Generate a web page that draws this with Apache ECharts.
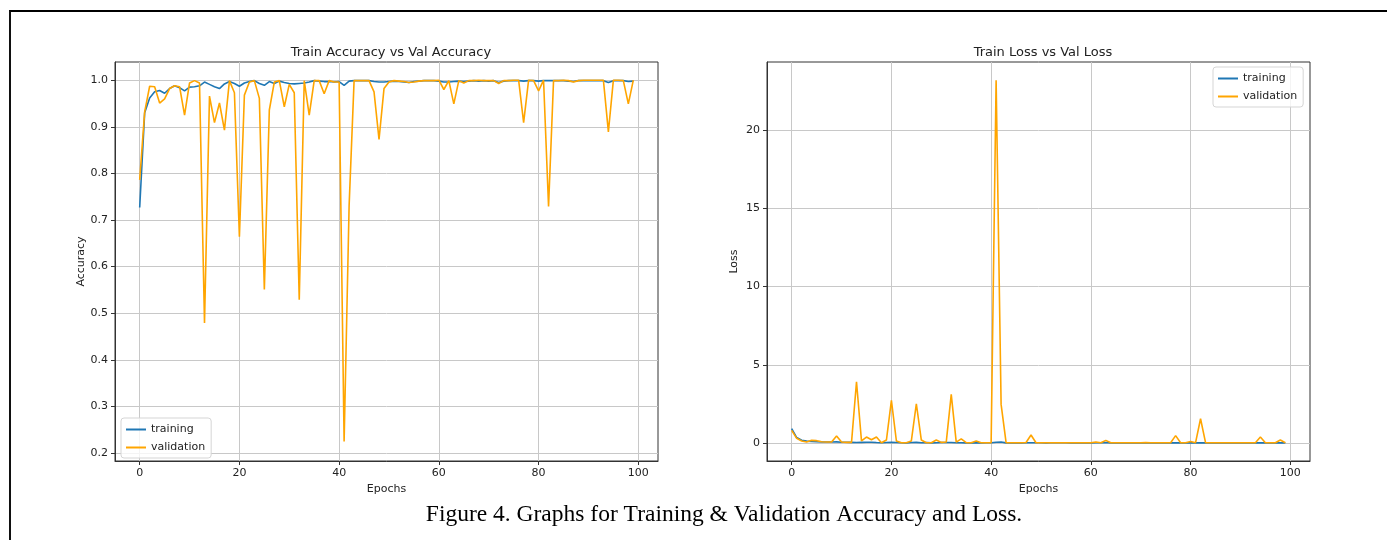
<!DOCTYPE html>
<html>
<head>
<meta charset="utf-8">
<script src="https://cdn.jsdelivr.net/npm/echarts@6/dist/echarts.min.js"></script>
<style>
  html, body { margin: 0; padding: 0; background: #fff; }
  #frame { position: absolute; left: 9px; top: 10px; width: 1400px; height: 600px;
           border-top: 2px solid #000; border-left: 2px solid #111; }
  #chart { position: absolute; left: 0; top: 0; width: 1387px; height: 540px; }
</style>
</head>
<body>
<div id="frame"></div>
<div id="chart"></div>
<script>
// epochs 0..99
const epochs = Array.from({ length: 100 }, (_, i) => i);

// accuracy per epoch
const trainAcc = [
  0.727, 0.930, 0.962, 0.975, 0.978, 0.972, 0.982, 0.988, 0.984, 0.977,
  0.985, 0.986, 0.988, 0.996, 0.991, 0.986, 0.982, 0.992, 0.997, 0.993,
  0.987, 0.994, 0.997, 0.999, 0.993, 0.989, 0.997, 0.993, 0.998, 0.995,
  0.993, 0.992, 0.993, 0.994, 0.996, 0.999, 0.998, 0.997, 0.997, 0.996,
  0.997, 0.989, 0.998, 0.999, 0.999, 0.999, 0.999, 0.997, 0.996, 0.996,
  0.997, 0.998, 0.997, 0.996, 0.995, 0.997, 0.998, 0.999, 0.999, 0.999,
  0.998, 0.996, 0.996, 0.997, 0.998, 0.997, 0.998, 0.999, 0.998, 0.999,
  0.998, 0.999, 0.995, 0.998, 0.999, 0.999, 0.999, 0.998, 0.999, 0.999,
  0.998, 0.999, 0.999, 0.999, 0.999, 0.999, 0.998, 0.997, 0.999, 0.999,
  0.999, 0.999, 0.999, 0.999, 0.995, 0.999, 0.999, 0.999, 0.997, 0.998
];
const valAcc = [
  0.786, 0.932, 0.987, 0.986, 0.951, 0.960, 0.982, 0.988, 0.986, 0.925,
  0.994, 0.999, 0.994, 0.479, 0.966, 0.909, 0.951, 0.893, 0.999, 0.973,
  0.664, 0.968, 0.996, 0.999, 0.961, 0.551, 0.936, 0.996, 0.999, 0.943,
  0.991, 0.973, 0.529, 0.999, 0.925, 0.999, 0.999, 0.971, 0.999, 0.996,
  0.996, 0.225, 0.730, 0.999, 0.999, 0.999, 0.999, 0.975, 0.873, 0.982,
  0.996, 0.999, 0.998, 0.997, 0.995, 0.996, 0.998, 0.999, 0.999, 0.999,
  1.000, 0.980, 0.999, 0.949, 0.999, 0.994, 0.999, 0.999, 1.000, 0.999,
  0.999, 0.999, 0.993, 0.999, 0.999, 1.000, 1.000, 0.909, 1.000, 0.999,
  0.977, 1.000, 0.729, 0.999, 0.999, 1.000, 0.999, 0.996, 0.999, 1.000,
  1.000, 1.000, 1.000, 1.000, 0.889, 1.000, 1.000, 0.999, 0.949, 1.000
];

// loss per epoch
const trainLoss = [
  0.92, 0.35, 0.18, 0.12, 0.10, 0.09, 0.07, 0.06, 0.06, 0.07,
  0.05, 0.05, 0.04, 0.03, 0.04, 0.05, 0.05, 0.03, 0.02, 0.03,
  0.04, 0.03, 0.02, 0.01, 0.03, 0.04, 0.02, 0.03, 0.01, 0.02,
  0.03, 0.03, 0.03, 0.02, 0.02, 0.01, 0.01, 0.02, 0.01, 0.02,
  0.02, 0.05, 0.06, 0.01, 0.01, 0.01, 0.01, 0.02, 0.02, 0.02,
  0.02, 0.01, 0.02, 0.02, 0.02, 0.02, 0.01, 0.01, 0.01, 0.01,
  0.01, 0.02, 0.02, 0.03, 0.01, 0.01, 0.01, 0.01, 0.01, 0.01,
  0.01, 0.01, 0.02, 0.01, 0.01, 0.01, 0.01, 0.02, 0.01, 0.01,
  0.01, 0.01, 0.01, 0.01, 0.01, 0.01, 0.01, 0.01, 0.01, 0.01,
  0.01, 0.01, 0.01, 0.01, 0.02, 0.01, 0.01, 0.01, 0.02, 0.01
];
const valLoss = [
  0.81, 0.30, 0.13, 0.06, 0.17, 0.15, 0.08, 0.06, 0.06, 0.45,
  0.06, 0.04, 0.04, 3.92, 0.13, 0.38, 0.21, 0.38, 0.02, 0.19,
  2.73, 0.13, 0.02, 0.02, 0.13, 2.51, 0.19, 0.02, 0.02, 0.19,
  0.04, 0.06, 3.11, 0.06, 0.26, 0.02, 0.02, 0.13, 0.02, 0.02,
  0.02, 23.2, 2.47, 0.02, 0.02, 0.02, 0.02, 0.03, 0.51, 0.02,
  0.02, 0.02, 0.02, 0.02, 0.02, 0.02, 0.02, 0.02, 0.02, 0.02,
  0.02, 0.06, 0.02, 0.17, 0.02, 0.02, 0.02, 0.02, 0.02, 0.02,
  0.02, 0.03, 0.02, 0.02, 0.02, 0.02, 0.02, 0.47, 0.02, 0.02,
  0.10, 0.02, 1.55, 0.02, 0.02, 0.02, 0.02, 0.02, 0.02, 0.02,
  0.02, 0.02, 0.02, 0.02, 0.38, 0.02, 0.02, 0.02, 0.19, 0.02
];

const xTicks = [0, 20, 40, 60, 80, 100];
const accTicks = [0.2, 0.3, 0.4, 0.5, 0.6, 0.7, 0.8, 0.9, 1.0];
const lossTicks = [0, 5, 10, 15, 20];

const FONT = 'DejaVu Sans';
const BLUE = '#1f77b4';
const ORANGE = '#FFA500';

const pairs = (ys) => epochs.map((e, i) => [e, ys[i]]);

function xAxisFor(gridIndex) {
  return {
    type: 'value', gridIndex, min: -4.95, max: 103.95,
    name: 'Epochs', nameLocation: 'middle', nameGap: 22,
    nameTextStyle: { fontFamily: FONT, fontSize: 11, color: '#222' },
    axisLine: { show: true, onZero: false, lineStyle: { color: '#333', width: 1 } },
    axisTick: { show: true, length: 4, customValues: xTicks, lineStyle: { color: '#333' } },
    axisLabel: { customValues: xTicks, fontFamily: FONT, fontSize: 11, color: '#222', margin: 7 },
    splitLine: { show: true, lineStyle: { color: '#c8c8c8', width: 1 } }
  };
}

function yAxisFor(gridIndex, min, max, ticks, name, gap, fmt) {
  return {
    type: 'value', gridIndex, min, max,
    name, nameLocation: 'middle', nameGap: gap, nameRotate: 90,
    nameTextStyle: { fontFamily: FONT, fontSize: 11, color: '#222' },
    axisLine: { show: true, onZero: false, lineStyle: { color: '#333', width: 1 } },
    axisTick: { show: true, length: 4, customValues: ticks, lineStyle: { color: '#333' } },
    axisLabel: { customValues: ticks, fontFamily: FONT, fontSize: 11, color: '#222', margin: 7, formatter: fmt },
    splitLine: { show: true, lineStyle: { color: '#c8c8c8', width: 1 } }
  };
}

function line(name, color, xi, ys) {
  return {
    name, type: 'line', xAxisIndex: xi, yAxisIndex: xi,
    data: pairs(ys), showSymbol: false, symbol: 'none',
    lineStyle: { color, width: 1.6 }, itemStyle: { color },
    animation: false
  };
}

const legendBase = {
  orient: 'vertical', itemWidth: 20, itemHeight: 2, itemGap: 7, icon: 'rect',
  textStyle: { fontFamily: FONT, fontSize: 11, color: '#222' },
  backgroundColor: 'rgba(255,255,255,0.8)', borderColor: '#d5d5d5', borderWidth: 1,
  borderRadius: 3, padding: [6, 6, 5, 5],
  data: ['training', 'validation']
};

const chart = echarts.init(document.getElementById('chart'));
chart.setOption({
  backgroundColor: 'transparent',
  animation: false,
  title: [
    { text: 'Train Accuracy vs Val Accuracy', left: 386, top: 41, textAlign: 'center',
      textStyle: { fontFamily: FONT, fontSize: 13, fontWeight: 'normal', color: '#222' } },
    { text: 'Train Loss vs Val Loss', left: 1038, top: 41, textAlign: 'center',
      textStyle: { fontFamily: FONT, fontSize: 13, fontWeight: 'normal', color: '#222' } }
  ],
  grid: [
    { left: 115, top: 62, width: 543, height: 399, show: true, borderColor: '#333', borderWidth: 1 },
    { left: 767, top: 62, width: 543, height: 399, show: true, borderColor: '#333', borderWidth: 1 }
  ],
  xAxis: [xAxisFor(0), xAxisFor(1)],
  yAxis: [
    yAxisFor(0, 0.183, 1.039, accTicks, 'Accuracy', 28, (v) => v.toFixed(1)),
    yAxisFor(1, -1.15, 24.36, lossTicks, 'Loss', 27, (v) => String(v))
  ],
  legend: [
    Object.assign({}, legendBase, { left: 121, top: 418 }),
    Object.assign({}, legendBase, { left: 1213, top: 67 })
  ],
  series: [
    line('training', BLUE, 0, trainAcc),
    line('validation', ORANGE, 0, valAcc),
    line('training', BLUE, 1, trainLoss),
    line('validation', ORANGE, 1, valLoss)
  ],
  graphic: [
    { type: 'text', x: 724, y: 515,
      style: { text: 'Figure 4. Graphs for Training & Validation Accuracy and Loss.',
               textAlign: 'center', textVerticalAlign: 'middle',
               font: '23.5px "Liberation Serif", "Times New Roman", serif', fill: '#000' } }
  ]
});
</script>
</body>
</html>
